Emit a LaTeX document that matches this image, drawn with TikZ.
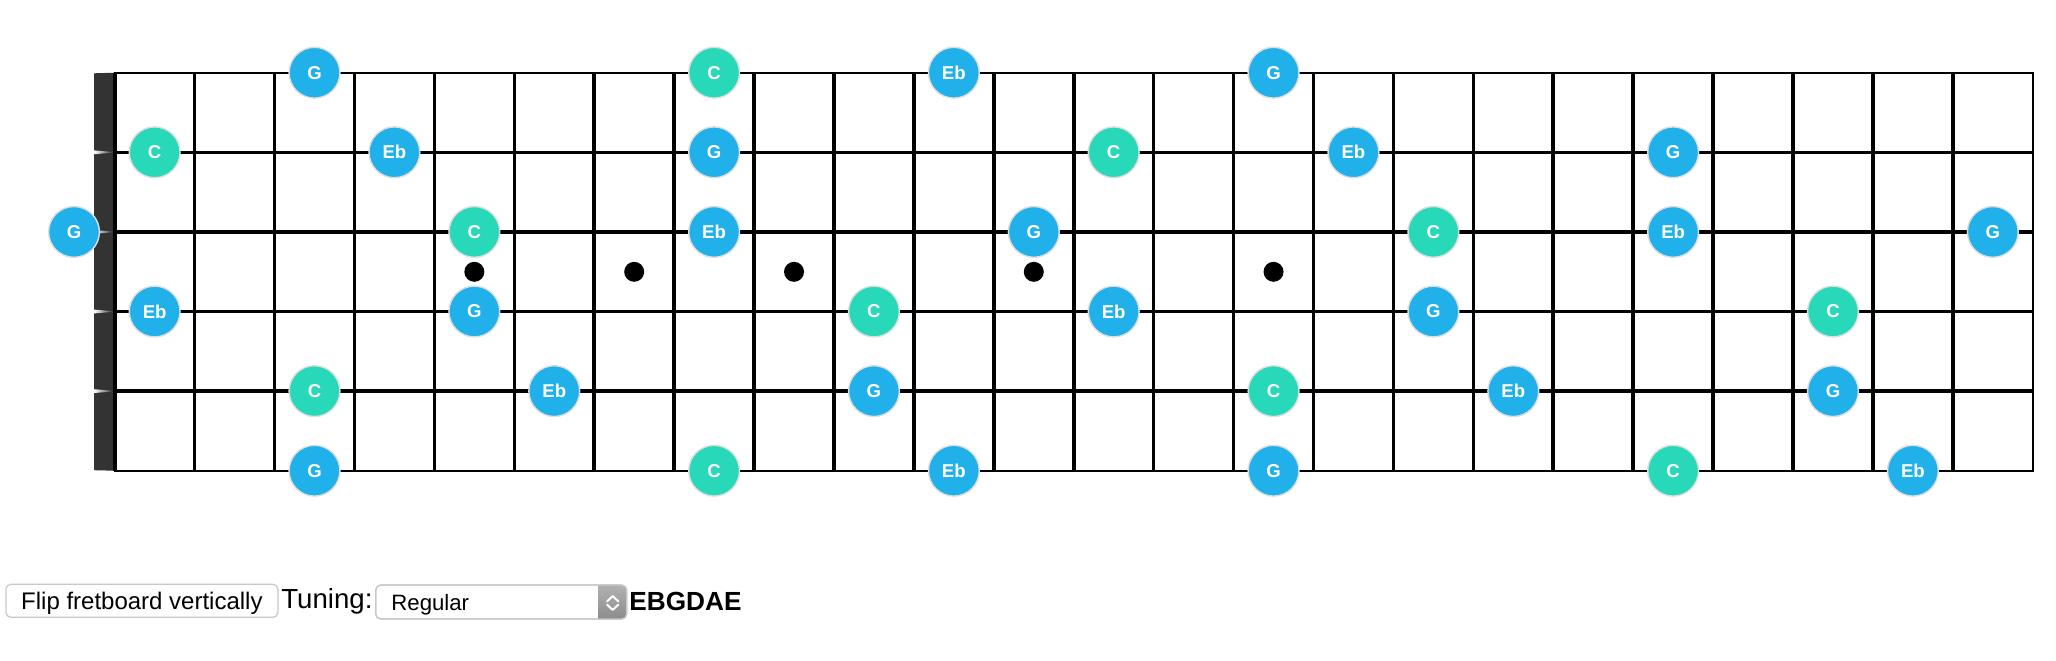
\documentclass[tikz,border=0pt]{standalone}
\usepackage{fontspec}
\newfontfamily\arial{Liberation Sans}
\definecolor{noteblue}{RGB}{32,176,234}
\definecolor{noteteal}{RGB}{39,217,184}
\definecolor{nutgray}{RGB}{51,51,51}
\definecolor{btnborder}{RGB}{200,200,200}
\definecolor{selgraytop}{RGB}{178,178,178}
\definecolor{selgraybot}{RGB}{140,140,140}
\tikzset{
  note/.style={circle, minimum size=25.4pt, inner sep=0pt, draw=black!13, line width=0.7pt,
    text=white, font=\arial\bfseries\fontsize{9.3}{9.3}\selectfont},
  bluenote/.style={note, fill=noteblue},
  tealnote/.style={note, fill=noteteal},
  inlay/.style={circle, fill=black, minimum size=10pt, inner sep=0pt},
  innerline/.style={line width=1.8pt},
  outerline/.style={line width=1.1pt},
  uibox/.style={draw=btnborder, line width=0.6pt, fill=white, rounded corners=2.5pt},
}
\begin{document}
\begin{tikzpicture}[x=0.5pt,y=-0.5pt]
\useasboundingbox (0,0) rectangle (2056,660);
\fill[white] (0,0) rectangle (2056,660);
% nut
\fill[nutgray] (94,73.3) -- (114.7,72.7) -- (114.7,470.7) -- (94,470.2) -- cycle;
\foreach \s in {2,3,4,5}{
  \pgfmathsetmacro\yy{72.7+79.6*(\s-1)}
  \shade[left color=white, right color=nutgray] (94,\yy-1.9) -- (113.5,\yy-0.3) -- (113.5,\yy+0.3) -- (94,\yy+1.9) -- cycle;
}
% strings
\foreach \s in {2,3,4,5}{
  \pgfmathsetmacro\yy{72.7+79.6*(\s-1)}
  \coordinate (sl\s) at (114.7,\yy);
  \coordinate (sr\s) at (2032.7,\yy);
  \draw[innerline] (sl\s) -- (sr\s);
}
% frets
\foreach \k in {0,...,23}{
  \pgfmathsetmacro\xx{114.7+79.92*\k}
  \coordinate (ft\k) at (\xx,72.7);
  \coordinate (fb\k) at (\xx,470.7);
  \draw[innerline] (ft\k) -- (fb\k);
}
\coordinate (tl) at (114.7,72.7);
\coordinate (br) at (2032.7,470.7);
\draw[outerline] (tl) rectangle (br);
% inlays
\foreach \f in {5,7,9,12,15}{
  \pgfmathsetmacro\xx{114.7+79.92*(\f-0.5)}
  \node[inlay] (dot\f) at (\xx,271.8) {};
}
% notes
\foreach \s/\f/\nm/\st in {
  1/3/G/bluenote, 1/8/C/tealnote, 1/11/Eb/bluenote, 1/15/G/bluenote,
  2/1/C/tealnote, 2/4/Eb/bluenote, 2/8/G/bluenote, 2/13/C/tealnote, 2/16/Eb/bluenote, 2/20/G/bluenote,
  3/0/G/bluenote, 3/5/C/tealnote, 3/8/Eb/bluenote, 3/12/G/bluenote, 3/17/C/tealnote, 3/20/Eb/bluenote, 3/24/G/bluenote,
  4/1/Eb/bluenote, 4/5/G/bluenote, 4/10/C/tealnote, 4/13/Eb/bluenote, 4/17/G/bluenote, 4/22/C/tealnote,
  5/3/C/tealnote, 5/6/Eb/bluenote, 5/10/G/bluenote, 5/15/C/tealnote, 5/18/Eb/bluenote, 5/22/G/bluenote,
  6/3/G/bluenote, 6/8/C/tealnote, 6/11/Eb/bluenote, 6/15/G/bluenote, 6/20/C/tealnote, 6/23/Eb/bluenote}{
  \pgfmathsetmacro\xx{\f==0 ? 74 : 114.7+79.92*(\f-0.5)}
  \pgfmathsetmacro\yy{72.7+79.6*(\s-1)}
  \node[\st] (n\s-\f) at (\xx,\yy) {\nm};
}
% controls
\node[uibox, minimum width=136pt, minimum height=16.5pt, inner sep=0pt,
  font=\arial\fontsize{12}{12}\selectfont, text height=8.5pt, text depth=0pt]
  (flip) at (141.9,600.8) {Flip fretboard vertically};
\node[anchor=base west, inner sep=0pt, font=\arial\fontsize{13.8}{14}\selectfont] (tuning) at (281,608.3) {Tuning:};
\node[uibox, minimum width=125.5pt, minimum height=17pt, inner sep=0pt] (select) at (501.2,602) {};
\begin{scope}
  \clip[rounded corners=2.5pt] (375.7,585) rectangle (626.7,619);
  \shade[top color=selgraytop, bottom color=selgraybot] (598,585) rectangle (626.7,619);
\end{scope}
\draw[draw=btnborder, line width=0.6pt, rounded corners=2.5pt] (375.7,585) rectangle (626.7,619);
\draw[white, line width=1pt, line cap=round, line join=round] (607,601.5) -- (612.7,596) -- (618.4,601.5);
\draw[white, line width=1pt, line cap=round, line join=round] (607,604.5) -- (612.7,610) -- (618.4,604.5);
\node[anchor=base west, inner sep=0pt, font=\arial\fontsize{11.1}{12}\selectfont] (regular) at (391,610) {Regular};
\node[anchor=base west, inner sep=0pt, font=\arial\bfseries\fontsize{13.1}{14}\selectfont] (tuningname) at (629,610) {EBGDAE};
\end{tikzpicture}
\end{document}
